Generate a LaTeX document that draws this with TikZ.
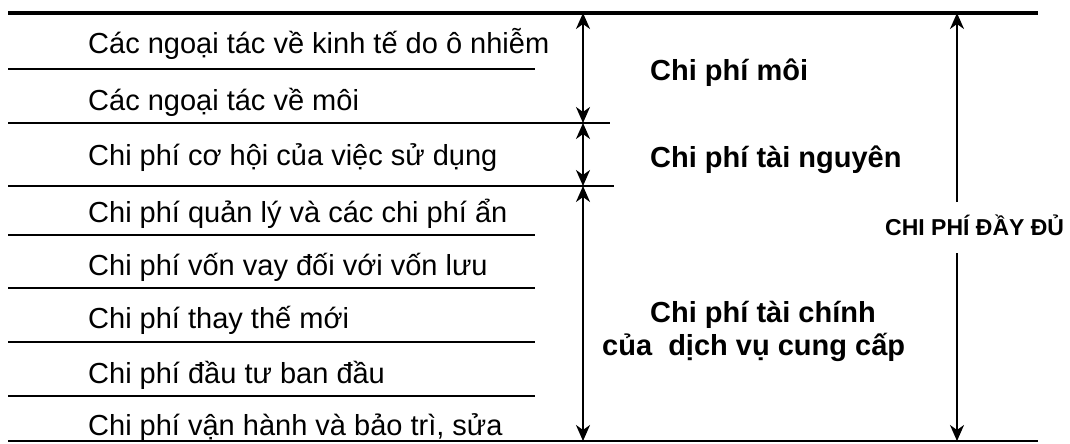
\documentclass[tikz,border=0pt]{standalone}
\usepackage{fontspec}
\setmainfont{Liberation Sans}
\usetikzlibrary{arrows.meta}
\begin{document}
\begin{tikzpicture}[x=1pt,y=-1pt,
  rule/.style={line width=1.9pt},
  midrule/.style={line width=2.6pt},
  heavyrule/.style={line width=3.6pt},
  dimarrow/.style={line width=2pt,
    {Stealth[length=16pt,width=14pt,inset=5pt]}-{Stealth[length=16pt,width=14pt,inset=5pt]}},
  halfarrow/.style={line width=2pt,-{Stealth[length=16pt,width=14pt,inset=5pt]}},
  item/.style={anchor=base west,inner sep=0pt,font=\fontsize{29}{34}\selectfont},
  head/.style={anchor=base west,inner sep=0pt,font=\bfseries\fontsize{29}{34}\selectfont},
  caps/.style={anchor=base west,inner sep=0pt,font=\bfseries\fontsize{23}{28}\selectfont}]
\useasboundingbox (0,0) rectangle (1070,444);

% horizontal rules
\coordinate (t0) at (8,13);    \coordinate (t1) at (1038,13);
\coordinate (r1a) at (8,69);   \coordinate (r1b) at (535,69);
\coordinate (r2a) at (8,123);  \coordinate (r2b) at (610,123);
\coordinate (r3a) at (8,186);  \coordinate (r3b) at (614,186);
\coordinate (r4a) at (8,235);  \coordinate (r4b) at (535,235);
\coordinate (r5a) at (8,288);  \coordinate (r5b) at (535,288);
\coordinate (r6a) at (8,342);  \coordinate (r6b) at (535,342);
\coordinate (r7a) at (8,396);  \coordinate (r7b) at (535,396);
\coordinate (b0) at (8,441);   \coordinate (b1) at (1038,441);

\draw[heavyrule] (t0) -- (t1);
\draw[rule] (r1a) -- (r1b);
\draw[midrule] (r2a) -- (r2b);
\draw[midrule] (r3a) -- (r3b);
\draw[rule] (r4a) -- (r4b);
\draw[rule] (r5a) -- (r5b);
\draw[rule] (r6a) -- (r6b);
\draw[rule] (r7a) -- (r7b);
\draw[rule] (b0) -- (b1);

% left items
\node[item] (i1) at (88,53)  {Các ngoại tác về kinh tế do ô nhiễm};
\node[item] (i2) at (88,110) {Các ngoại tác về môi};
\node[item] (i3) at (88,165) {Chi phí cơ hội của việc sử dụng};
\node[item] (i4) at (88,222) {Chi phí quản lý và các chi phí ẩn};
\node[item] (i5) at (88,275) {Chi phí vốn vay đối với vốn lưu};
\node[item] (i6) at (88,328) {Chi phí thay thế mới};
\node[item] (i7) at (88,383) {Chi phí đầu tư ban đầu};
\node[item] (i8) at (88,435) {Chi phí vận hành và bảo trì, sửa};

% group arrows
\coordinate (a0) at (583,13);
\coordinate (a1) at (583,123);
\coordinate (a2) at (583,186);
\coordinate (a3) at (583,441);
\draw[dimarrow] (a0) -- (a1);
\draw[dimarrow] (a1) -- (a2);
\draw[dimarrow] (a2) -- (a3);

% group labels
\node[head] (g1) at (650,80)  {Chi phí môi};
\node[head] (g2) at (650,167) {Chi phí tài nguyên};
\node[head] (g3) at (650,322) {Chi phí tài chính};
\node[head] (g3b) at (602,355) {của~~dịch vụ cung cấp};

% full cost
\node[caps] (full) at (885,235) {CHI PHÍ ĐẦY ĐỦ};
\coordinate (f0) at (957,13);
\coordinate (f1) at (957,202);
\coordinate (f2) at (957,253);
\coordinate (f3) at (957,441);
\draw[halfarrow] (f1) -- (f0);
\draw[halfarrow] (f2) -- (f3);
\end{tikzpicture}
\end{document}
